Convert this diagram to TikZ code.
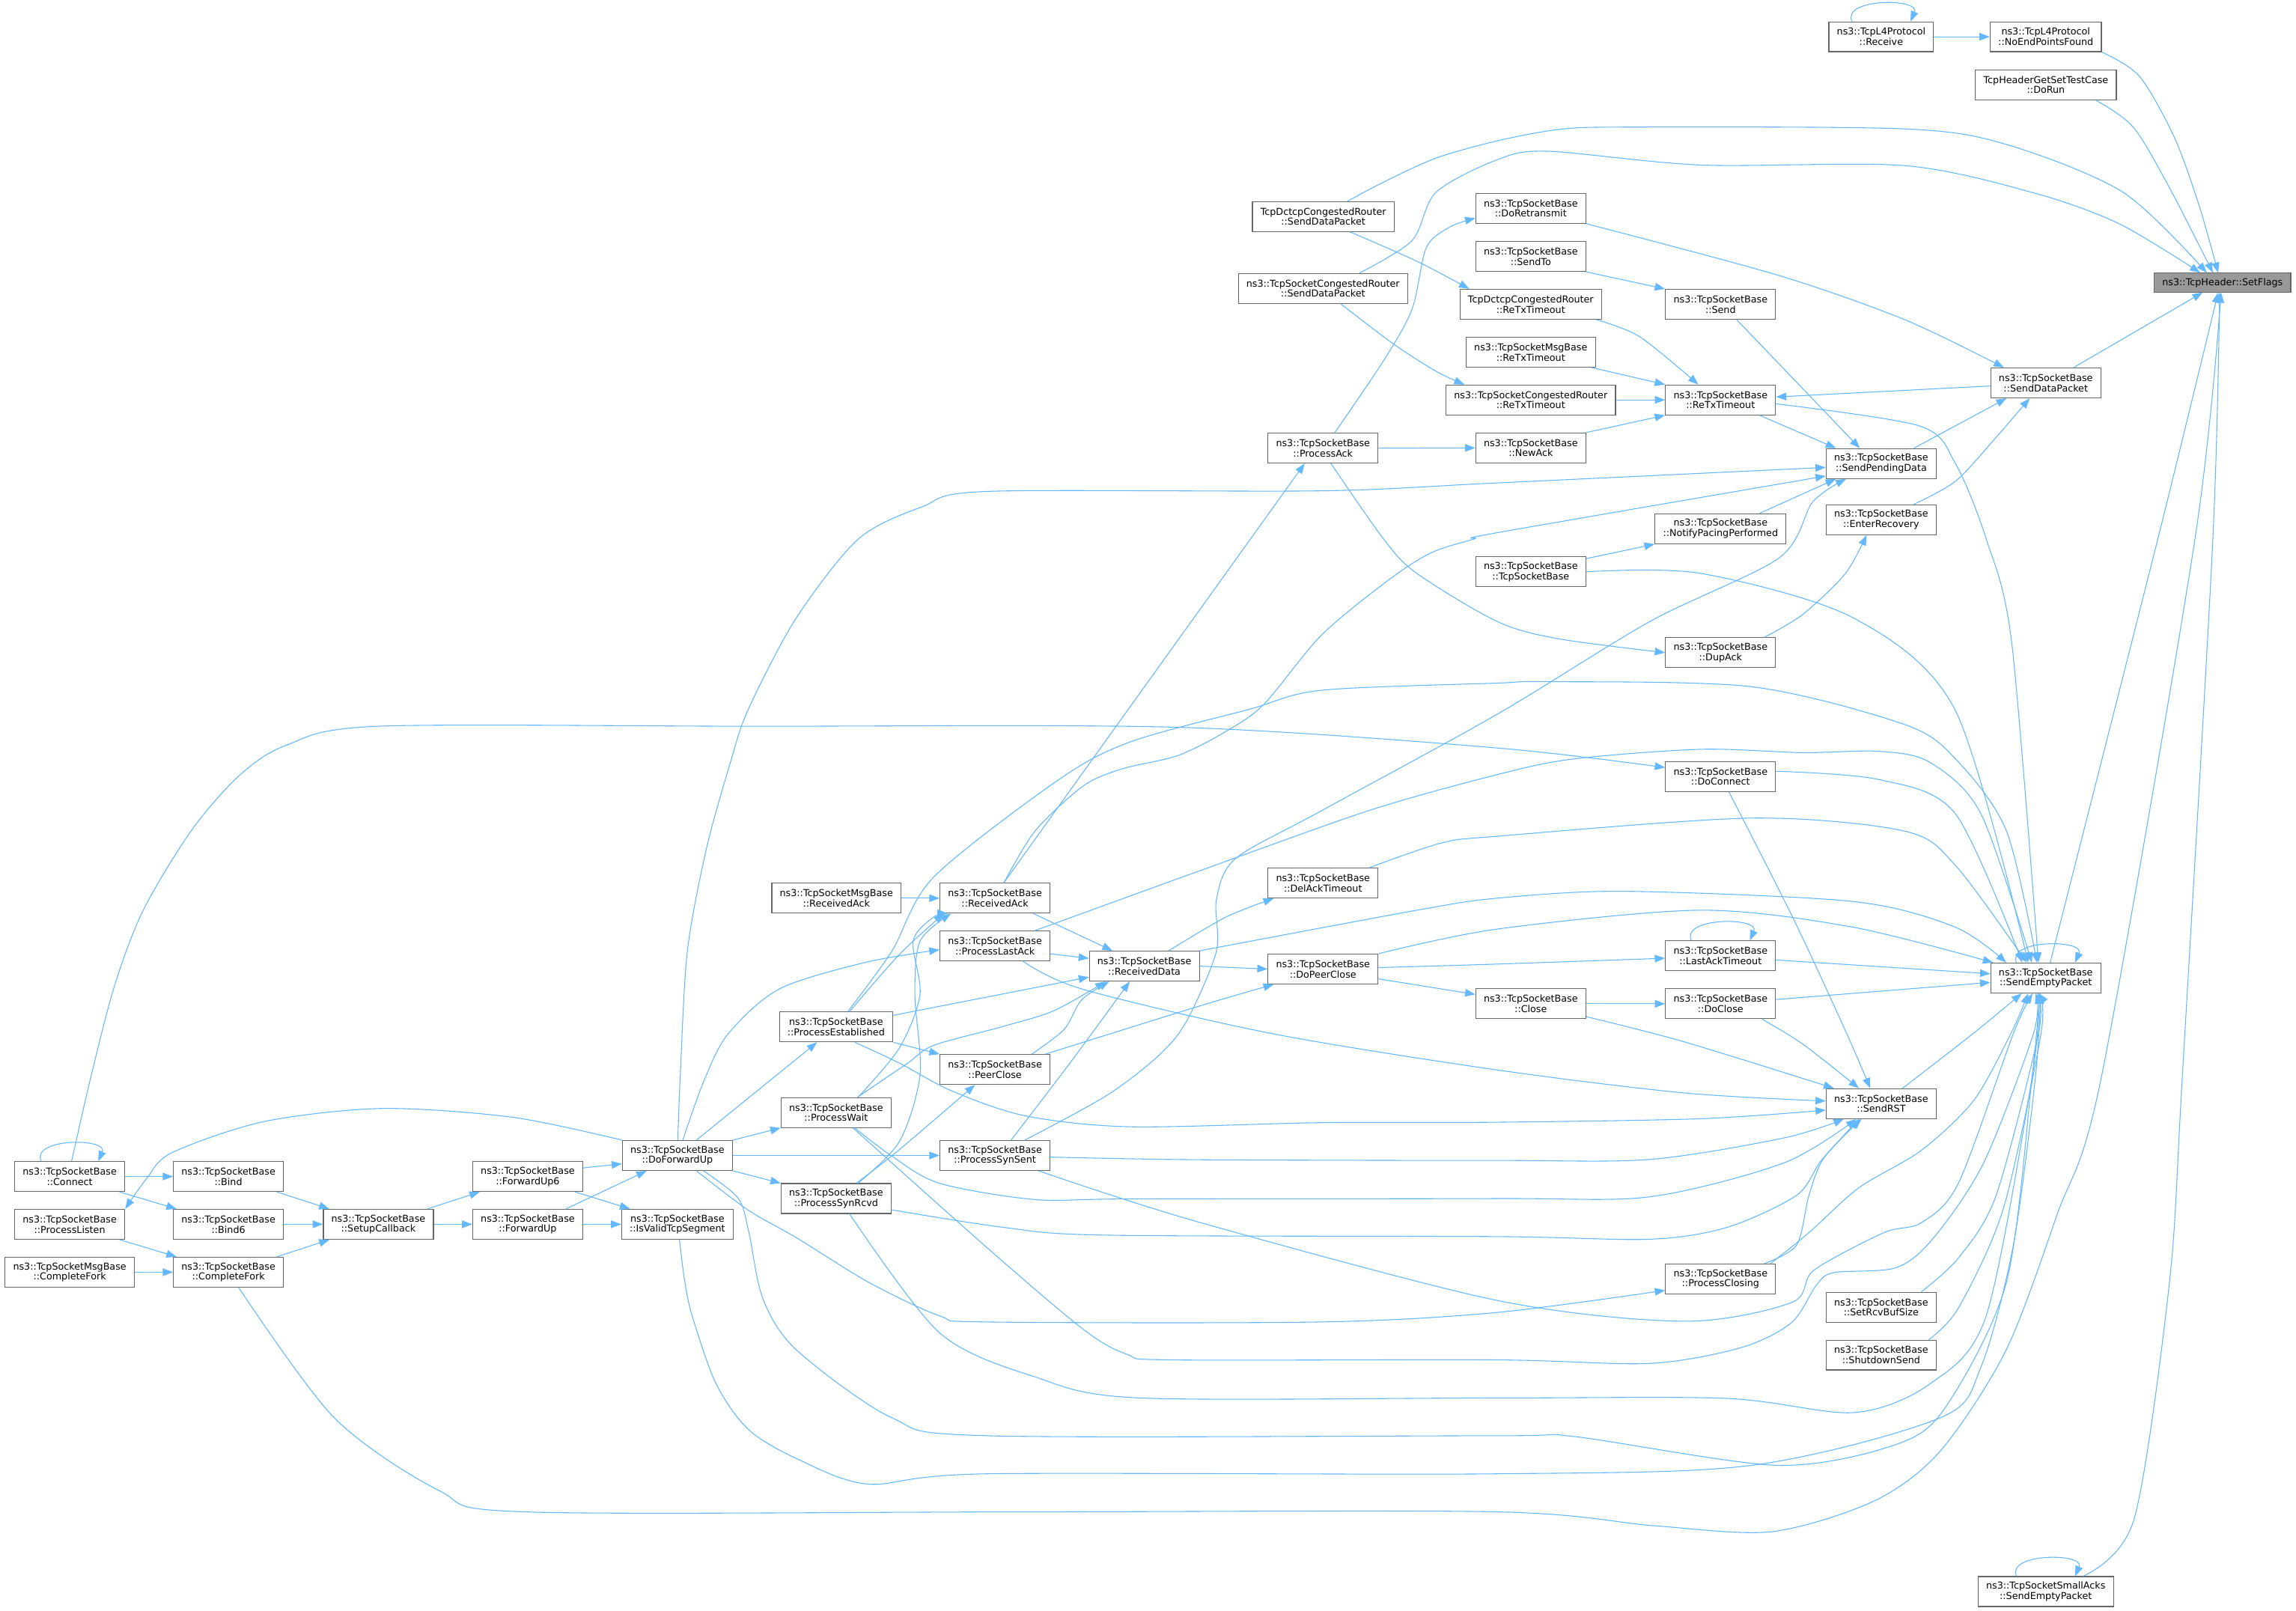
\documentclass[tikz,border=0pt]{standalone}
\usepackage{fontspec}
\setmainfont{DejaVu Sans}
\usetikzlibrary{arrows.meta}
\definecolor{eb}{HTML}{63B8FF}
\definecolor{bd}{HTML}{666666}
\definecolor{rootfill}{HTML}{999999}
\tikzset{
 box/.style={draw=bd, fill=white, line width=0.6pt, align=center, inner xsep=5.5pt, inner ysep=0pt, minimum height=20.4pt, font=\fontsize{6.5}{7}\selectfont},
 root/.style={box, fill=rootfill, minimum height=12.9pt},
 e/.style={draw=eb, line width=0.55pt, -{Triangle[length=7pt,width=5.2pt]}},
}
\begin{document}
\begin{tikzpicture}[x=1pt,y=-1pt]
\fill[white] (0,0) rectangle (1568,1100.2);
\useasboundingbox (0,0) rectangle (1568,1100.2);
% nodes
\node[box] (recv) at (1284.7,25.1) {ns3::TcpL4Protocol\\::Receive};
\node[box] (noep) at (1397.1,25.1) {ns3::TcpL4Protocol\\::NoEndPointsFound};
\node[box] (dorun) at (1397.2,57.9) {TcpHeaderGetSetTestCase\\::DoRun};
\node[root] (setflags) at (1517.8,193.0) {ns3::TcpHeader::SetFlags};
\node[box] (dctsdp) at (903.7,147.9) {TcpDctcpCongestedRouter\\::SendDataPacket};
\node[box] (crsdp) at (903.5,196.9) {ns3::TcpSocketCongestedRouter\\::SendDataPacket};
\node[box] (procack) at (903.5,306.0) {ns3::TcpSocketBase\\::ProcessAck};
\node[box] (doretx) at (1045.4,142.3) {ns3::TcpSocketBase\\::DoRetransmit};
\node[box] (sendto) at (1045.4,175.2) {ns3::TcpSocketBase\\::SendTo};
\node[box] (dctretx) at (1045.4,207.8) {TcpDctcpCongestedRouter\\::ReTxTimeout};
\node[box] (msgretx) at (1045.4,240.5) {ns3::TcpSocketMsgBase\\::ReTxTimeout};
\node[box] (crretx) at (1045.4,273.1) {ns3::TcpSocketCongestedRouter\\::ReTxTimeout};
\node[box] (newack) at (1045.4,305.9) {ns3::TcpSocketBase\\::NewAck};
\node[box] (send) at (1175.0,207.8) {ns3::TcpSocketBase\\::Send};
\node[box] (retx) at (1175.0,273.1) {ns3::TcpSocketBase\\::ReTxTimeout};
\node[box] (sdp) at (1397.1,261.5) {ns3::TcpSocketBase\\::SendDataPacket};
\node[box] (spd) at (1284.7,316.6) {ns3::TcpSocketBase\\::SendPendingData};
\node[box] (pacing) at (1175.0,361.1) {ns3::TcpSocketBase\\::NotifyPacingPerformed};
\node[box] (enterrec) at (1284.7,354.9) {ns3::TcpSocketBase\\::EnterRecovery};
\node[box] (tsb) at (1045.4,390.5) {ns3::TcpSocketBase\\::TcpSocketBase};
\node[box] (dupack) at (1175.0,445.7) {ns3::TcpSocketBase\\::DupAck};
\node[box] (doconn) at (1175.0,530.3) {ns3::TcpSocketBase\\::DoConnect};
\node[box] (delack) at (903.5,603.1) {ns3::TcpSocketBase\\::DelAckTimeout};
\node[box] (lastack) at (1175.0,652.7) {ns3::TcpSocketBase\\::LastAckTimeout};
\node[box] (dopeer) at (903.5,661.8) {ns3::TcpSocketBase\\::DoPeerClose};
\node[box] (close) at (1045.4,685.5) {ns3::TcpSocketBase\\::Close};
\node[box] (doclose) at (1175.0,685.5) {ns3::TcpSocketBase\\::DoClose};
\node[box] (sep) at (1397.1,667.9) {ns3::TcpSocketBase\\::SendEmptyPacket};
\node[box] (msgrack) at (571.2,613.4) {ns3::TcpSocketMsgBase\\::ReceivedAck};
\node[box] (rack) at (679.5,613.4) {ns3::TcpSocketBase\\::ReceivedAck};
\node[box] (plast) at (679.5,646.0) {ns3::TcpSocketBase\\::ProcessLastAck};
\node[box] (rdata) at (781.5,659.8) {ns3::TcpSocketBase\\::ReceivedData};
\node[box] (pest) at (571.0,701.3) {ns3::TcpSocketBase\\::ProcessEstablished};
\node[box] (peer) at (679.5,730.4) {ns3::TcpSocketBase\\::PeerClose};
\node[box] (pwait) at (571.0,759.8) {ns3::TcpSocketBase\\::ProcessWait};
\node[box] (psent) at (679.5,789.1) {ns3::TcpSocketBase\\::ProcessSynSent};
\node[box] (prcvd) at (571.0,818.5) {ns3::TcpSocketBase\\::ProcessSynRcvd};
\node[box] (sendrst) at (1284.7,753.7) {ns3::TcpSocketBase\\::SendRST};
\node[box] (pclosing) at (1175.0,873.5) {ns3::TcpSocketBase\\::ProcessClosing};
\node[box] (setrcv) at (1284.7,892.7) {ns3::TcpSocketBase\\::SetRcvBufSize};
\node[box] (shutdown) at (1284.7,925.4) {ns3::TcpSocketBase\\::ShutdownSend};
\node[box] (smallacks) at (1397.1,1086.9) {ns3::TcpSocketSmallAcks\\::SendEmptyPacket};
\node[box] (connect) at (47.6,803.5) {ns3::TcpSocketBase\\::Connect};
\node[box] (bind) at (156.0,803.5) {ns3::TcpSocketBase\\::Bind};
\node[box] (plisten) at (47.6,836.1) {ns3::TcpSocketBase\\::ProcessListen};
\node[box] (bind6) at (156.0,836.1) {ns3::TcpSocketBase\\::Bind6};
\node[box] (msgfork) at (47.6,868.8) {ns3::TcpSocketMsgBase\\::CompleteFork};
\node[box] (fork) at (156.0,868.8) {ns3::TcpSocketBase\\::CompleteFork};
\node[box] (setup) at (258.4,836.1) {ns3::TcpSocketBase\\::SetupCallback};
\node[box] (fwd6) at (360.4,803.5) {ns3::TcpSocketBase\\::ForwardUp6};
\node[box] (fwd) at (360.4,836.1) {ns3::TcpSocketBase\\::ForwardUp};
\node[box] (dofwd) at (462.6,789.1) {ns3::TcpSocketBase\\::DoForwardUp};
\node[box] (isvalid) at (462.6,836.1) {ns3::TcpSocketBase\\::IsValidTcpSegment};
% top region edges
\draw[e] ([xshift=-20]recv.north) .. controls ([xshift=-27,yshift=16]recv.north) and ([xshift=27,yshift=16]recv.north) .. ([xshift=20]recv.north);
\draw[e] (recv.east) -- (noep.west);
\draw[e] plot[smooth] coordinates {(noep.south east) (1461,52) (1485,94) (1502,141) ([xshift=-3]setflags.north)};
\draw[e] plot[smooth] coordinates {([xshift=34]dorun.south) (1457,87) (1482,129) ([xshift=-6.6]setflags.north)};
\draw[e] plot[smooth] coordinates {([xshift=16.6]dctsdp.north) (944.8,124.4) (980.6,108) (1022.4,96.2) (1064,88.5) (1109,86.8) (1300,88) (1370,98.6) (1450,131.4) ([xshift=-10.8]setflags.north)};
\draw[e] plot[smooth] coordinates {([xshift=25]crsdp.north) (964.3,164.3) (980.6,131.4) (1022.4,109.1) (1057,103.3) (1161.6,112.7) (1300.7,113.1) (1387.7,131.4) (1446.8,152.6) ([xshift=-15.3]setflags.north)};
\draw[e] plot[smooth] coordinates {([xshift=18.3]dctsdp.south) (967.6,178.4) ([xshift=-42]dctretx.north)};
\draw[e] plot[smooth] coordinates {([xshift=12]crsdp.south) (951.3,234.7) (980.6,253.5) ([xshift=-45.3]crretx.north)};
\draw[e] plot[smooth] coordinates {([xshift=8]procack.north) (944.8,246.4) (964.3,211.2) (974.1,169) (990.4,154.9) ([yshift=-6.7]doretx.west)};
\draw[e] (procack.east) -- (newack.west);
\draw[e] plot[smooth] coordinates {([xshift=5.4]procack.south) (944.8,368) (967.6,391.6) (1022.4,424.4) (1064,436.2) (dupack.west)};
\draw[e] ([xshift=6]rack.north) -- ([xshift=-12.5]procack.south);
\draw[e] plot[smooth] coordinates {(doretx.south east) (1213.7,187.8) (1300.7,218.3) ([xshift=-28.6]sdp.north)};
\draw[e] (sendto.south east) -- (send.north west);
\draw[e] ([xshift=11]send.south) -- ([xshift=-14.6]spd.north);
\draw[e] plot[smooth] coordinates {([xshift=44.8]dctretx.south) (1119.8,230) ([xshift=-15.2]retx.north)};
\draw[e] ([xshift=41.4]msgretx.south) -- (retx.north west);
\draw[e] (crretx.east) -- (retx.west);
\draw[e] (newack.north east) -- (retx.south west);
\draw[e] ([yshift=-2.1]sdp.west) -- ([yshift=2]retx.east);
\draw[e] ([xshift=26.6]retx.south) -- ([xshift=-30.9]spd.north);
\draw[e] plot[smooth] coordinates {([yshift=-2.7]retx.east) (1311.2,291) (1335.5,316.8) (1356.4,368) (1373.8,438.5) ([xshift=-5]sep.north)};
\draw[e] ([xshift=22.3]spd.north) -- ([xshift=-26.8]sdp.south);
\draw[e] plot[smooth] coordinates {([xshift=22.3]enterrec.north) (1335.5,328.6) (1362,300) ([xshift=-11]sdp.south)};
\draw[e] ([xshift=19]sdp.north) -- ([xshift=-13.6]setflags.south);
\draw[e] plot[smooth] coordinates {([xshift=3]sep.north) (1473.6,368.1) ([xshift=-3]setflags.south)};
\draw[e] plot[smooth] coordinates {([xshift=7]fork.south) (228,968) (300,1018) (358.6,1032.5) (700,1032.5) (1022.4,1032.5) (1130,1042) (1210,1046) (1280,1025) (1325,991) (1370,922) (1405,829) (1435,736) (1499,368) ([xshift=-1]setflags.south)};
\draw[e] plot[smooth] coordinates {([xshift=25.4]smallacks.north) (1457.3,1037.8) (1481.6,875.4) (1490.3,736.1) (1511.2,368.1) ([xshift=-2]setflags.south)};
\draw[e] ([xshift=-20]smallacks.north) .. controls ([xshift=-27,yshift=16]smallacks.north) and ([xshift=27,yshift=16]smallacks.north) .. ([xshift=20]smallacks.north);
\draw[e] ([yshift=9]tsb.east) -- (pacing.south west);
\draw[e] plot[smooth] coordinates {(tsb.east) (1161.6,391.6) (1265.9,422.1) (1335.5,485.5) ([xshift=-12]sep.north)};
\draw[e] ([xshift=26.6]pacing.north) -- ([xshift=-31]spd.south);
\draw[e] plot[smooth] coordinates {([xshift=30]dupack.north) (1231,419.7) (1260,392) ([xshift=-10]enterrec.south)};
% middle
\draw[e] plot[smooth] coordinates {([xshift=1.3]connect.north) (61.9,736.1) (78.2,673.2) (97.8,621.6) (130.4,567.6) (163,530) (195.6,508.9) (257.5,496) (511.2,496) (804.6,496.7) (1022.4,510.8) ([yshift=6.1]doconn.west)};
\draw[e] plot[smooth] coordinates {([yshift=3.6]doconn.east) (1283.3,532.4) (1335.5,555.9) ([xshift=-16]sep.north)};
\draw[e] plot[smooth] coordinates {([xshift=5.7]doconn.south) (1224.2,626.3) (1261,705.5) ([xshift=-7.5]sendrst.north)};
\draw[e] plot[smooth] coordinates {([xshift=31.5]delack.north) (984,575.8) (1022.4,571.1) (1196.4,558.7) (1300.7,567.6) (1335.5,591.1) ([xshift=-13]sep.north)};
\draw[e] plot[smooth] coordinates {([xshift=16.6]rdata.north) (837.2,626.3) ([xshift=-33.7]delack.south)};
\draw[e] plot[smooth] coordinates {(rdata.north east) (967.6,621.6) (1022.4,613.4) (1109.4,608.7) (1265.9,615.7) (1335.5,633.3) ([xshift=-27]sep.north)};
\draw[e] (rdata.east) -- (dopeer.west);
\draw[e] plot[smooth] coordinates {(dopeer.north east) (1022.4,634.5) (1161.6,621.6) (1265.9,633.3) ([xshift=-36]sep.north)};
\draw[e] plot[smooth] coordinates {([yshift=1]dopeer.east) (1022.4,658.4) ([yshift=-1.7]lastack.west)};
\draw[e] ([yshift=-6.7]dopeer.east) -- ([yshift=6.4]close.west);
\draw[e] ([xshift=-20]lastack.north) .. controls ([xshift=-27,yshift=16]lastack.north) and ([xshift=27,yshift=16]lastack.north) .. ([xshift=20]lastack.north);
\draw[e] ([yshift=-2.9]lastack.east) -- ([yshift=2.9]sep.west);
\draw[e] ([yshift=2.9]doclose.east) -- ([yshift=-3]sep.west);
\draw[e] (close.east) -- (doclose.west);
\draw[e] plot[smooth] coordinates {([yshift=-8.8]close.east) (1150.2,711.5) ([xshift=-32.3]sendrst.north)};
\draw[e] plot[smooth] coordinates {([xshift=28.3]doclose.south) (1231.1,713) ([xshift=-15.2]sendrst.north)};
\draw[e] plot[smooth] coordinates {([xshift=14.6]sendrst.north) (1347.9,705.5) ([xshift=-16.4]sep.south)};
\draw[e] ([xshift=-20]sep.north) .. controls ([xshift=-27,yshift=16]sep.north) and ([xshift=27,yshift=16]sep.north) .. ([xshift=20]sep.north);
% into SendRST
\draw[e] plot[smooth] coordinates {([xshift=19.2]plast.south) (739.4,675.6) (869.8,706.1) (1022.4,730.7) (1150.2,746.4) ([yshift=1.8]sendrst.west)};
\draw[e] plot[smooth] coordinates {([xshift=12.7]pest.south) (614.2,726) (650,745) (700,762) (772,769.5) (902.4,766.7) (1022.4,766.4) (1161.6,764) ([yshift=-4.4]sendrst.west)};
\draw[e] plot[smooth] coordinates {([yshift=-1.1]psent.east) (817.9,792) (1022.4,792.5) (1126.8,791.8) (1218.4,777.1) ([xshift=-25.5]sendrst.south)};
\draw[e] plot[smooth] coordinates {([xshift=12.7]pwait.south) (609,789.5) (641.6,808.1) (706.8,819.2) (772,818.8) (1022.4,818.5) (1126.8,817.3) (1218.4,794.1) ([xshift=-17]sendrst.south)};
\draw[e] plot[smooth] coordinates {([yshift=-7.7]prcvd.east) (684.6,838.1) (755,843.5) (1022.4,844.5) (1126.8,846.3) (1180,838) (1226.9,816.3) (1243.9,792.4) ([xshift=-15]sendrst.south)};
\draw[e] plot[smooth] coordinates {([xshift=29.7]pclosing.north) (1226.9,850.3) (1235.4,816.3) (1245.6,790.7) ([xshift=-13.5]sendrst.south)};
% into SendEmptyPacket from below
\draw[e] plot[smooth] coordinates {([xshift=34]pclosing.north) (1235.4,841.8) (1269.5,811.1) (1312.1,785.6) (1347.9,751.5) (1373.4,705.5) ([xshift=-12]sep.south)};
\draw[e] plot[smooth] coordinates {([xshift=13]dofwd.south) (511.2,826.6) (543.8,845.2) (592.7,875.4) (641.6,898.6) (674.2,902.8) (902.4,902.8) (1022.4,896.3) ([yshift=-7.7]pclosing.west)};
\draw[e] plot[smooth] coordinates {([xshift=29.8]psent.south) (817.9,834.4) (1022.4,888.1) (1150.2,902.3) (1223.5,889.5) (1238.8,867.4) (1286.5,841.8) (1312.1,835) (1337.6,807.7) (1375.1,705.5) ([xshift=-9]sep.south)};
\draw[e] plot[smooth] coordinates {([xshift=11.5]pwait.south) (674.2,852.2) (740,908) (770,925) (800,928.7) (1022.4,928.7) (1126.8,931.1) (1189.4,920.2) (1223.5,903.2) (1240.5,877.6) (1252.4,869.1) (1295,865.7) (1320.6,845.2) (1354.7,794.1) (1388.8,705.5) ([xshift=-7]sep.south)};
\draw[e] plot[smooth] coordinates {([xshift=27.4]setrcv.north) (1337.6,858.9) (1363.2,816.3) (1392.2,705.5) ([xshift=-6]sep.south)};
\draw[e] plot[smooth] coordinates {([xshift=32.5]shutdown.north) (1337.6,893) (1368.3,824.8) (1393.9,705.5) ([xshift=-5]sep.south)};
\draw[e] plot[smooth] coordinates {([xshift=9.2]prcvd.south) (641.6,910.2) (706.8,940.3) (778.5,954.7) (1022.4,954.7) (1179,955) (1265.9,964.7) (1318.1,945) (1356.4,898.6) (1387.7,736.1) ([xshift=-4.5]sep.south)};
\draw[e] plot[smooth] coordinates {([xshift=17.8]dofwd.south) (503.9,818) (511.2,840.5) (521,886.9) (543.8,921.8) (609,968.2) (674.2,980.5) (1022.4,980.5) (1074.6,981) (1213.7,1000.7) (1293.8,986.8) (1328.5,961.2) (1370.3,875.4) (1387.7,736.1) ([xshift=-4]sep.south)};
\draw[e] plot[smooth] coordinates {([xshift=1.4]isvalid.south) (467.5,874.2) (472.7,898.6) (489,945) (511.2,976.3) (543.8,996) (592.7,1013.5) (674.2,1006.5) (1022.4,1006.5) (1196.4,1000.7) (1325.1,968.2) (1352.9,933.4) (1375,850) (1390,736) ([xshift=-3.5]sep.south)};
% into SendEmptyPacket from above-left
\draw[e] plot[smooth] coordinates {([xshift=8]pest.north) (609,649.7) (637.7,598.9) (723.1,532.4) (772,506.6) (853.5,484.3) (902.4,471.4) (1022.4,466.5) (1057.2,465.5) (1196.4,469) (1300.7,494.8) (1335.5,518.3) (1370.3,567.6) ([xshift=-6]sep.north)};
\draw[e] plot[smooth] coordinates {([xshift=27.4]plast.north) (817.9,595.2) (935,553.5) (1022.4,529) (1074.6,518.3) (1161.6,511.7) (1231.1,514) (1283.3,513.1) (1318.1,520.7) (1352.9,555.9) ([xshift=-9.5]sep.north)};
% left-middle cluster
\draw[e] (msgrack.east) -- (rack.west);
\draw[e] ([xshift=26.2]rack.south) -- ([xshift=-21.8]rdata.north);
\draw[e] ([yshift=-5.4]plast.east) -- ([yshift=5.3]rdata.west);
\draw[e] ([yshift=7.9]pest.east) -- ([yshift=-7.5]rdata.west);
\draw[e] (pest.south east) -- (peer.north west);
\draw[e] plot[smooth] coordinates {([xshift=9.2]pest.north) (614.2,651.8) ([xshift=-34.8]rack.south)};
\draw[e] plot[smooth] coordinates {([xshift=14.6]pwait.north) (618.9,726.7) (637.7,713.9) (684.6,701.1) (719.8,690.2) ([xshift=-26.5]rdata.south)};
\draw[e] plot[smooth] coordinates {([xshift=15]pwait.north) (614.2,715.7) (628.3,679.2) (623.6,642.7) (637.7,626.2) ([xshift=-32.4]rack.south)};
\draw[e] plot[smooth] coordinates {([xshift=13.9]prcvd.north) (614.2,785.1) ([xshift=-13.7]peer.south)};
\draw[e] plot[smooth] coordinates {([xshift=15]prcvd.north) (614.2,779.6) (628.3,734) (624.8,679.2) (628.3,642.7) ([xshift=-30]rack.south)};
\draw[e] plot[smooth] coordinates {([xshift=25.1]peer.north) (726.8,702.9) (738.6,682.9) ([xshift=-24]rdata.south)};
\draw[e] plot[smooth] coordinates {([xshift=34.4]peer.north) (817.9,687.4) ([xshift=-33.7]dopeer.south)};
\draw[e] plot[smooth] coordinates {([xshift=11]psent.north) (731.5,724.9) ([xshift=-10]rdata.south)};
\draw[e] plot[smooth] coordinates {([xshift=20.4]psent.north) (755,748.6) (790,722) (810,698) (830.7,649.7) (830.7,614.5) (843.7,586.4) (900,555) (1022.4,487.8) (1126.8,424.4) (1215,381) (1238,342.7) ([xshift=-24]spd.south)};
\draw[e] plot[smooth] coordinates {([xshift=6.1]rack.north) (706.8,567.6) (739.4,537) (765.5,525.3) (804.6,515.9) (837.2,499.5) (863.3,480.8) (902.4,433.8) (948,396.3) (977.4,377.5) (1006.7,368.1) (1022.4,363.8) ([yshift=-8.5]spd.west)};
% DoForwardUp
\draw[e] plot[smooth] coordinates {([xshift=0.3]dofwd.north) (464.5,736.1) (469.4,649.7) (482.5,579.3) (498.8,520.7) (511.2,484) (543.8,422) (586.2,368.1) (630,346) (674.2,335.6) (902.4,335.2) (1022.4,329.8) ([yshift=-2.6]spd.west)};
\draw[e] plot[smooth] coordinates {([xshift=3.7]dofwd.north) (480,740) (496.8,706.6) (532,675.5) (590.7,657.3) ([yshift=-2.6]plast.west)};
\draw[e] ([xshift=13]dofwd.north) -- ([xshift=-13]pest.south);
\draw[e] (dofwd.north east) -- (pwait.south west);
\draw[e] (dofwd.east) -- (psent.west);
\draw[e] (dofwd.south east) -- (prcvd.north west);
\draw[e] plot[smooth] coordinates {(dofwd.north west) (350,763) (260.8,757) (180,766) (117.4,787.2) (100,805) (plisten.north east)};
% left cluster
\draw[e] ([xshift=-19.5]connect.north) .. controls ([xshift=-26.5,yshift=16]connect.north) and ([xshift=26.5,yshift=16]connect.north) .. ([xshift=19.5]connect.north);
\draw[e] (connect.east) -- (bind.west);
\draw[e] ([xshift=34]connect.south) -- ([xshift=-35.4]bind6.north);
\draw[e] ([xshift=34]plisten.south) -- ([xshift=-35.4]fork.north);
\draw[e] (msgfork.east) -- (fork.west);
\draw[e] ([xshift=33]bind.south) -- ([xshift=-33.5]setup.north);
\draw[e] (bind6.east) -- (setup.west);
\draw[e] ([xshift=33]fork.north) -- ([xshift=-33.5]setup.south);
\draw[e] ([xshift=33.4]setup.north) -- ([xshift=-32.8]fwd6.south);
\draw[e] (setup.east) -- (fwd.west);
\draw[e] ([yshift=5.9]fwd6.east) -- ([yshift=-5.7]dofwd.west);
\draw[e] ([xshift=32.4]fwd6.south) -- ([xshift=-32.3]isvalid.north);
\draw[e] ([xshift=26]fwd.north) -- ([xshift=-21]dofwd.south);
\draw[e] (fwd.east) -- (isvalid.west);
\end{tikzpicture}
\end{document}
